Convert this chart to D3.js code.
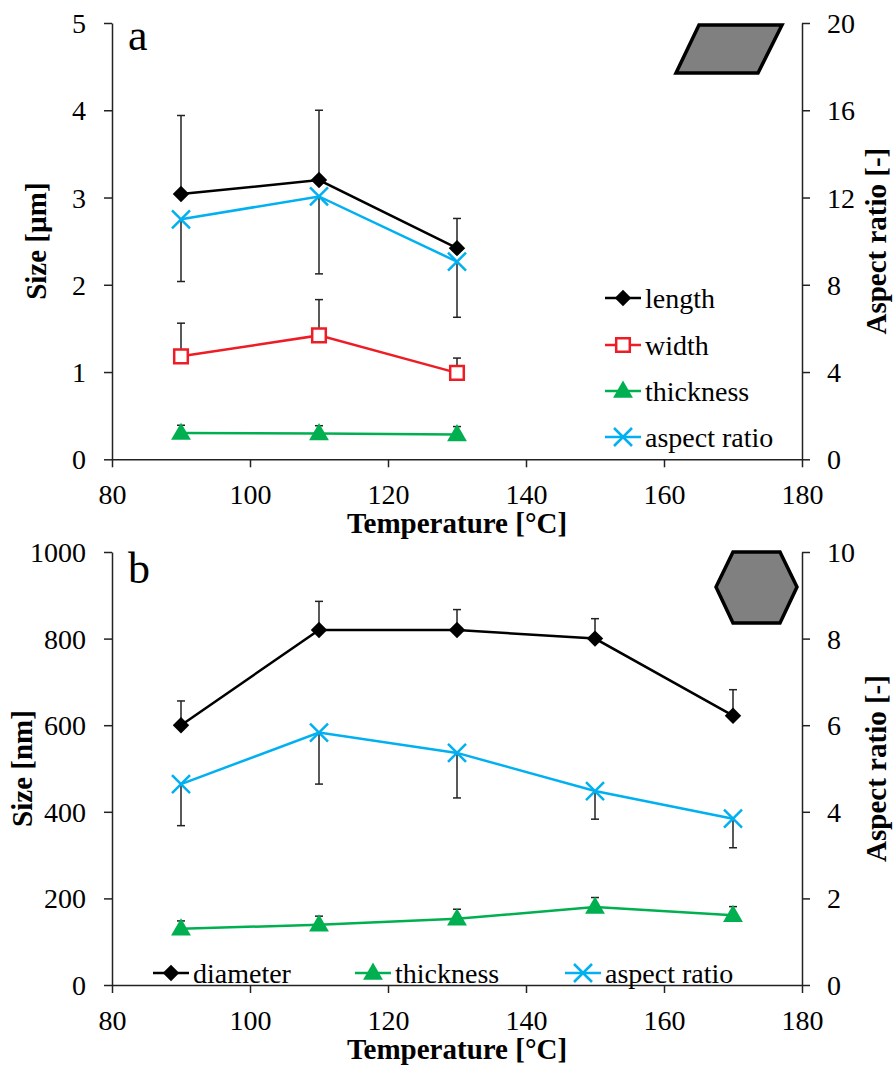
<!DOCTYPE html>
<html>
<head>
<meta charset="utf-8">
<script src="https://cdn.jsdelivr.net/npm/d3@7"></script>
<style>
  body { margin: 0; background: #fff; }
</style>
</head>
<body>
<div id="chart"></div>
<script>
// ---- panel a : platelets, sizes in µm ----
var tempsA = [90, 110, 130];
var lengthA = [3.04, 3.20, 2.42];
var lengthErrA = [0.90, 0.80, 0.34];       // plus direction only
var widthA = [1.18, 1.42, 0.99];
var widthErrA = [0.38, 0.41, 0.17];
var thickA = [0.30, 0.295, 0.285];
var thickErrA = [0.09, 0.09, 0.09];
var aspectA = [11.0, 12.05, 9.06];
var aspectErrA = [2.85, 3.55, 2.55];       // minus direction only

// ---- panel b : hexagons, sizes in nm ----
var tempsB = [90, 110, 130, 150, 170];
var diamB = [600, 820, 820, 800, 622];
var diamErrB = [56, 66, 47, 46, 60];
var thickB = [130, 139, 153, 180, 161];
var thickErrB = [18, 20, 22, 22, 20];
var aspectB = [4.64, 5.83, 5.36, 4.48, 3.84];
var aspectErrB = [0.96, 1.19, 1.04, 0.65, 0.67];

// tick labels
var xTicks = [80, 100, 120, 140, 160, 180];
var yTicksA = [0, 1, 2, 3, 4, 5];
var yTicksAR = [0, 4, 8, 12, 16, 20];
var yTicksB = [0, 200, 400, 600, 800, 1000];
var yTicksBR = [0, 2, 4, 6, 8, 10];

var BLACK = "#000000", RED = "#ee1c24", GREEN = "#00b050", BLUE = "#00b0f0";
var tickFont = "'Liberation Serif', 'Times New Roman', serif";
var titleFont = "'Liberation Serif', 'Times New Roman', serif";
var tickSize = 28;

var svg = d3.select("#chart").append("svg")
    .attr("width", 895)
    .attr("height", 1068);

var x = d3.scaleLinear().domain([80, 180]).range([112, 802]);

// marker drawing helpers
function drawMarker(g, kind, color, cx, cy) {
  if (kind == "diamond") {
    g.append("path")
      .attr("d", d3.symbol().type(d3.symbolSquare).size(135)())
      .attr("transform", "translate(" + cx + "," + cy + ") rotate(45)")
      .attr("fill", color);
  } else if (kind == "square") {
    g.append("path")
      .attr("d", d3.symbol().type(d3.symbolSquare).size(185)())
      .attr("transform", "translate(" + cx + "," + cy + ")")
      .attr("fill", "#fff")
      .attr("stroke", color)
      .attr("stroke-width", 2.5);
  } else if (kind == "triangle") {
    g.append("path")
      .attr("d", d3.symbol().type(d3.symbolTriangle).size(170)())
      .attr("transform", "translate(" + cx + "," + (cy + 1) + ")")
      .attr("fill", color);
  } else if (kind == "cross") {
    var r = 9;
    g.append("path")
      .attr("d", "M" + (-r) + "," + (-r) + "L" + r + "," + r + "M" + (-r) + "," + r + "L" + r + "," + (-r))
      .attr("transform", "translate(" + cx + "," + cy + ")")
      .attr("fill", "none")
      .attr("stroke", color)
      .attr("stroke-width", 2.5);
  }
}

function drawSeries(g, temps, vals, errs, dir, y, kind, color) {
  var pts = temps.map(function(t, i) { return { t: t, v: vals[i], e: errs[i] }; });

  g.append("path")
    .datum(pts)
    .attr("fill", "none")
    .attr("stroke", color)
    .attr("stroke-width", 2.5)
    .attr("d", d3.line()
      .x(function(d) { return x(d.t); })
      .y(function(d) { return y(d.v); }));

  // error bars (one direction only, like the original)
  pts.forEach(function(d) {
    var y0 = y(d.v), y1 = y(d.v + dir * d.e);
    g.append("line")
      .attr("x1", x(d.t)).attr("x2", x(d.t))
      .attr("y1", y0).attr("y2", y1)
      .attr("stroke", "#222").attr("stroke-width", 1.5);
    g.append("line")
      .attr("x1", x(d.t) - 4).attr("x2", x(d.t) + 4)
      .attr("y1", y1).attr("y2", y1)
      .attr("stroke", "#222").attr("stroke-width", 1.5);
  });

  pts.forEach(function(d) { drawMarker(g, kind, color, x(d.t), y(d.v)); });
}

function legendItem(g, kind, color, mx, my, label) {
  g.append("line")
    .attr("x1", mx - 18).attr("x2", mx + 18)
    .attr("y1", my).attr("y2", my)
    .attr("stroke", color).attr("stroke-width", 2.5);
  drawMarker(g, kind, color, mx, my);
  g.append("text")
    .attr("x", mx + 22).attr("y", my)
    .attr("dominant-baseline", "central")
    .attr("font-family", tickFont)
    .attr("font-size", tickSize)
    .text(label);
}

function styleAxis(sel) {
  sel.selectAll("path, line").attr("stroke", "#222").attr("stroke-width", 1.5);
  sel.selectAll("text").attr("font-family", tickFont).attr("font-size", tickSize).attr("fill", "#000");
  sel.attr("font-family", null).attr("font-size", null);
}

function drawAxes(y, yR, yTicks, yRTicks, top, bottom, leftTitle, titleX) {
  var ax = svg.append("g")
    .attr("transform", "translate(0," + bottom + ")")
    .call(d3.axisBottom(x).tickValues(xTicks).tickFormat(d3.format("d"))
      .tickSize(8).tickSizeOuter(0).tickPadding(17));
  styleAxis(ax);

  var ay = svg.append("g")
    .attr("transform", "translate(" + x(80) + ",0)")
    .call(d3.axisLeft(y).tickValues(yTicks).tickFormat(d3.format("d"))
      .tickSize(8).tickSizeOuter(0).tickPadding(18));
  styleAxis(ay);
  ay.selectAll("text").attr("dy", null).attr("dominant-baseline", "central");

  var ayR = svg.append("g")
    .attr("transform", "translate(" + x(180) + ",0)")
    .call(d3.axisRight(yR).tickValues(yRTicks).tickFormat(d3.format("d"))
      .tickSize(8).tickSizeOuter(0).tickPadding(17));
  styleAxis(ayR);
  ayR.selectAll("text").attr("dy", null).attr("dominant-baseline", "central");

  // titles
  svg.append("text")
    .attr("x", (x(80) + x(180)) / 2)
    .attr("y", bottom + 74)
    .attr("text-anchor", "middle")
    .attr("font-family", titleFont).attr("font-weight", "bold").attr("font-size", 29)
    .text("Temperature [°C]");

  var mid = (top + bottom) / 2;
  svg.append("text")
    .attr("transform", "translate(" + titleX + "," + mid + ") rotate(-90)")
    .attr("text-anchor", "middle")
    .attr("font-family", titleFont).attr("font-weight", "bold").attr("font-size", 29)
    .text(leftTitle);

  svg.append("text")
    .attr("transform", "translate(886," + mid + ") rotate(-90)")
    .attr("text-anchor", "middle")
    .attr("font-family", titleFont).attr("font-weight", "bold").attr("font-size", 29)
    .text("Aspect ratio [-]");
}

// ================= panel a =================
var yA = d3.scaleLinear().domain([0, 5]).range([459.3, 23]);
var yAR = d3.scaleLinear().domain([0, 20]).range([459.3, 23]);

drawAxes(yA, yAR, yTicksA, yTicksAR, 23, 459.3, "Size [µm]", 46);

var gA = svg.append("g");
drawSeries(gA, tempsA, lengthA, lengthErrA, 1, yA, "diamond", BLACK);
drawSeries(gA, tempsA, widthA, widthErrA, 1, yA, "square", RED);
drawSeries(gA, tempsA, thickA, thickErrA, 1, yA, "triangle", GREEN);
drawSeries(gA, tempsA, aspectA, aspectErrA, -1, yAR, "cross", BLUE);

svg.append("text")
  .attr("x", 128).attr("y", 50)
  .attr("font-family", tickFont).attr("font-size", 44)
  .text("a");

// platelet sketch
svg.append("path")
  .attr("d", "M699,25L782,25L758,73L676,73Z")
  .attr("fill", "#808080").attr("stroke", "#000").attr("stroke-width", 3.5)
  .attr("stroke-linejoin", "miter");

var legA = svg.append("g");
legendItem(legA, "diamond", BLACK, 623, 298, "length");
legendItem(legA, "square", RED, 623, 345, "width");
legendItem(legA, "triangle", GREEN, 623, 391, "thickness");
legendItem(legA, "cross", BLUE, 623, 437, "aspect ratio");

// ================= panel b =================
var yB = d3.scaleLinear().domain([0, 1000]).range([985, 552]);
var yBR = d3.scaleLinear().domain([0, 10]).range([985, 552]);

drawAxes(yB, yBR, yTicksB, yTicksBR, 552, 985, "Size [nm]", 32);

var gB = svg.append("g");
drawSeries(gB, tempsB, diamB, diamErrB, 1, yB, "diamond", BLACK);
drawSeries(gB, tempsB, thickB, thickErrB, 1, yB, "triangle", GREEN);
drawSeries(gB, tempsB, aspectB, aspectErrB, -1, yBR, "cross", BLUE);

svg.append("text")
  .attr("x", 128).attr("y", 583)
  .attr("font-family", tickFont).attr("font-size", 44)
  .text("b");

// hexagon sketch
svg.append("path")
  .attr("d", "M716,587L733,552L780,552L797,587L780,623L733,623Z")
  .attr("fill", "#808080").attr("stroke", "#000").attr("stroke-width", 3.5);

var legB = svg.append("g");
legendItem(legB, "diamond", BLACK, 171, 973, "diameter");
legendItem(legB, "triangle", GREEN, 373, 973, "thickness");
legendItem(legB, "cross", BLUE, 583, 973, "aspect ratio");
</script>
</body>
</html>
